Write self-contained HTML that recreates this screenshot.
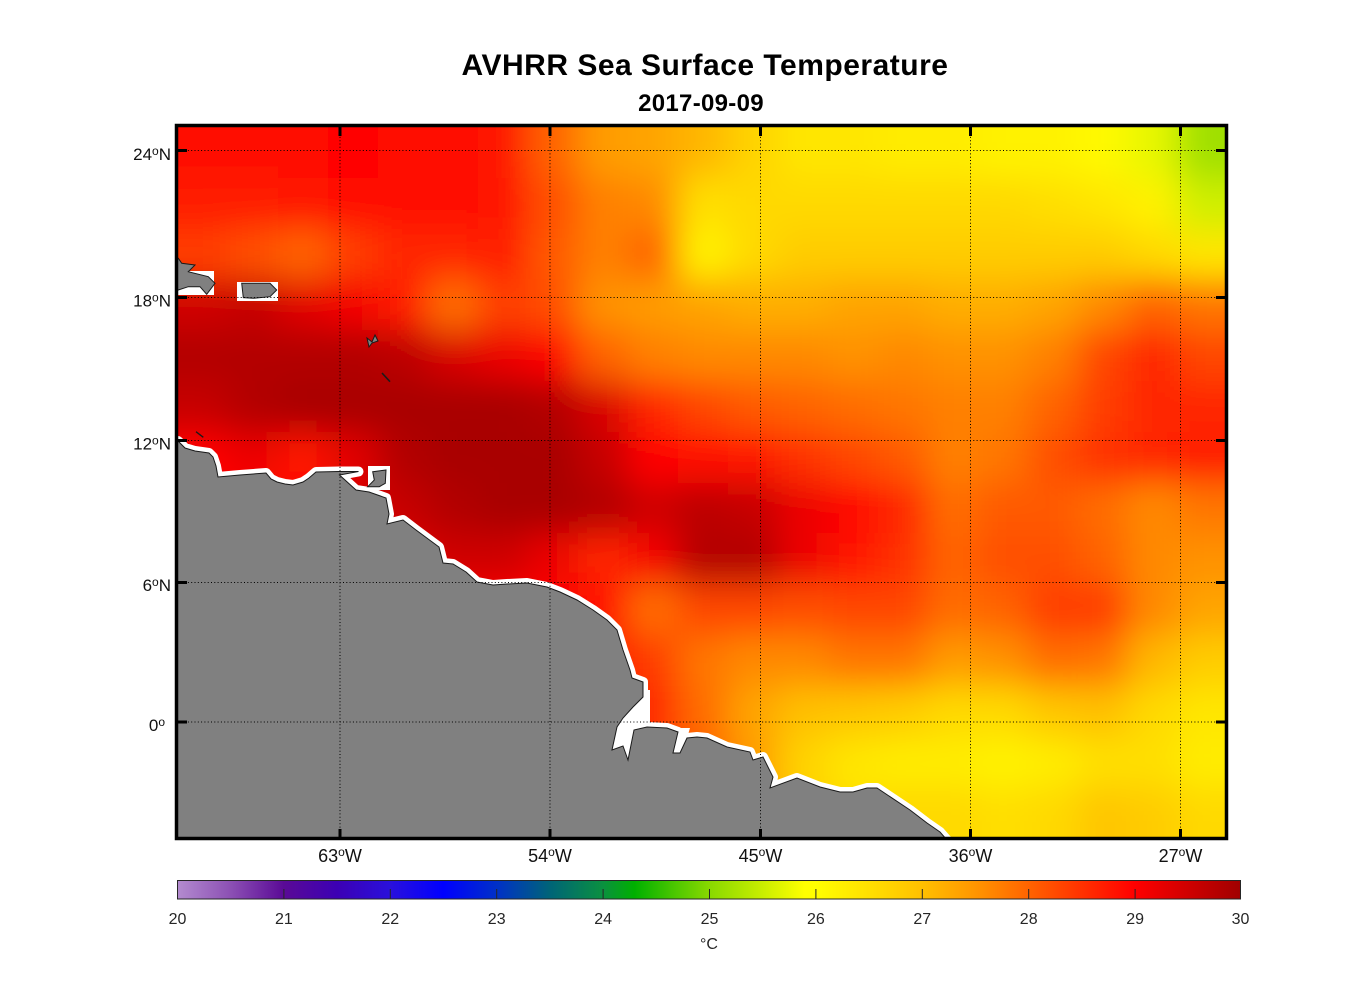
<!DOCTYPE html>
<html>
<head>
<meta charset="utf-8">
<style>
html,body{margin:0;padding:0;background:#fff;}
svg{display:block;}
text{font-family:"Liberation Sans",Arial,sans-serif;}
</style>
</head>
<body>
<svg width="1356" height="1000" viewBox="0 0 1356 1000" xmlns="http://www.w3.org/2000/svg">
<defs>
  <clipPath id="pc"><rect x="178" y="127" width="1048" height="711"/></clipPath>
  <filter id="bl" x="-0.1" y="-0.1" width="1.2" height="1.2"><feGaussianBlur stdDeviation="17"/></filter>
  <linearGradient id="cb" x1="0" y1="0" x2="1" y2="0">
    <stop offset="0" stop-color="#b38bcf"/>
    <stop offset="0.05" stop-color="#8c50b4"/>
    <stop offset="0.10" stop-color="#5a0a96"/>
    <stop offset="0.15" stop-color="#3c00b4"/>
    <stop offset="0.20" stop-color="#2a10dc"/>
    <stop offset="0.25" stop-color="#0000ff"/>
    <stop offset="0.30" stop-color="#0030c8"/>
    <stop offset="0.35" stop-color="#006478"/>
    <stop offset="0.40" stop-color="#0a9040"/>
    <stop offset="0.43" stop-color="#00b000"/>
    <stop offset="0.47" stop-color="#50c800"/>
    <stop offset="0.50" stop-color="#88d800"/>
    <stop offset="0.55" stop-color="#c8ee00"/>
    <stop offset="0.59" stop-color="#ffff00"/>
    <stop offset="0.60" stop-color="#ffff00"/>
    <stop offset="0.65" stop-color="#ffe000"/>
    <stop offset="0.70" stop-color="#ffc000"/>
    <stop offset="0.75" stop-color="#ff9600"/>
    <stop offset="0.80" stop-color="#ff6400"/>
    <stop offset="0.85" stop-color="#ff3200"/>
    <stop offset="0.90" stop-color="#ff0000"/>
    <stop offset="0.95" stop-color="#d00000"/>
    <stop offset="1" stop-color="#a00000"/>
  </linearGradient>
</defs>

<!-- Title -->
<text x="705" y="75" text-anchor="middle" font-size="30" font-weight="bold" letter-spacing="0.5" fill="#000">AVHRR Sea Surface Temperature</text>
<text x="701" y="111" text-anchor="middle" font-size="24" font-weight="bold" letter-spacing="0.3" fill="#000">2017-09-09</text>

<g clip-path="url(#pc)">
  <g filter="url(#bl)">
    <g transform="translate(0,77)">
      <rect x="128" width="201" height="102" fill="#ff0a00"/>
      <rect x="328" width="51" height="102" fill="#ff0000"/>
      <rect x="378" width="101" height="102" fill="#ff0a00"/>
      <rect x="478" width="51" height="102" fill="#ff1400"/>
      <rect x="528" width="51" height="102" fill="#ff6400"/>
      <rect x="578" width="51" height="102" fill="#ff9b00"/>
      <rect x="628" width="51" height="102" fill="#ffa400"/>
      <rect x="678" width="51" height="102" fill="#ffb700"/>
      <rect x="728" width="51" height="102" fill="#ffd300"/>
      <rect x="778" width="101" height="102" fill="#ffe600"/>
      <rect x="878" width="101" height="102" fill="#ffec00"/>
      <rect x="978" width="101" height="102" fill="#fff200"/>
      <rect x="1078" width="51" height="102" fill="#fff900"/>
      <rect x="1128" width="51" height="102" fill="#e7f700"/>
      <rect x="1178" width="101" height="102" fill="#a0e000"/>
    </g>
    <g transform="translate(0,178)">
      <rect x="128" width="151" height="52" fill="#ff1e00"/>
      <rect x="278" width="51" height="52" fill="#ff1400"/>
      <rect x="328" width="151" height="52" fill="#ff0a00"/>
      <rect x="478" width="51" height="52" fill="#ff1400"/>
      <rect x="528" width="51" height="52" fill="#ff5000"/>
      <rect x="578" width="51" height="52" fill="#ff8000"/>
      <rect x="628" width="51" height="52" fill="#ff8900"/>
      <rect x="678" width="51" height="52" fill="#ffdf00"/>
      <rect x="728" width="301" height="52" fill="#ffd900"/>
      <rect x="1028" width="51" height="52" fill="#ffdf00"/>
      <rect x="1078" width="51" height="52" fill="#ffe600"/>
      <rect x="1128" width="51" height="52" fill="#fff200"/>
      <rect x="1178" width="101" height="52" fill="#cfef00"/>
    </g>
    <g transform="translate(0,229)">
      <rect x="128" width="101" height="52" fill="#ff3c00"/>
      <rect x="228" width="51" height="52" fill="#ff5000"/>
      <rect x="278" width="51" height="52" fill="#ff6400"/>
      <rect x="328" width="51" height="52" fill="#ff3c00"/>
      <rect x="378" width="101" height="52" fill="#ff2800"/>
      <rect x="478" width="51" height="52" fill="#ff1e00"/>
      <rect x="528" width="51" height="52" fill="#ff5a00"/>
      <rect x="578" width="51" height="52" fill="#ff8000"/>
      <rect x="628" width="51" height="52" fill="#ff6400"/>
      <rect x="678" width="51" height="52" fill="#fff200"/>
      <rect x="728" width="51" height="52" fill="#ffd900"/>
      <rect x="778" width="351" height="52" fill="#ffcc00"/>
      <rect x="1128" width="51" height="52" fill="#ffd900"/>
      <rect x="1178" width="101" height="52" fill="#ffe600"/>
    </g>
    <g transform="translate(0,279)">
      <rect x="128" width="101" height="52" fill="#d00000"/>
      <rect x="228" width="51" height="52" fill="#c60000"/>
      <rect x="278" width="51" height="52" fill="#e20000"/>
      <rect x="328" width="51" height="52" fill="#f50000"/>
      <rect x="378" width="51" height="52" fill="#ff1e00"/>
      <rect x="428" width="51" height="52" fill="#ff6d00"/>
      <rect x="478" width="51" height="52" fill="#ff3c00"/>
      <rect x="528" width="51" height="52" fill="#ff5000"/>
      <rect x="578" width="51" height="52" fill="#ff9200"/>
      <rect x="628" width="51" height="52" fill="#ff9b00"/>
      <rect x="678" width="51" height="52" fill="#ffa400"/>
      <rect x="728" width="101" height="52" fill="#ffae00"/>
      <rect x="828" width="101" height="52" fill="#ffa400"/>
      <rect x="928" width="101" height="52" fill="#ffae00"/>
      <rect x="1028" width="51" height="52" fill="#ffa400"/>
      <rect x="1078" width="51" height="52" fill="#ff8900"/>
      <rect x="1128" width="51" height="52" fill="#ff6400"/>
      <rect x="1178" width="101" height="52" fill="#ff7600"/>
    </g>
    <g transform="translate(0,330)">
      <rect x="128" width="251" height="52" fill="#b30000"/>
      <rect x="378" width="51" height="52" fill="#bc0000"/>
      <rect x="428" width="51" height="52" fill="#d90000"/>
      <rect x="478" width="51" height="52" fill="#ec0000"/>
      <rect x="528" width="51" height="52" fill="#ff0000"/>
      <rect x="578" width="51" height="52" fill="#ff6400"/>
      <rect x="628" width="51" height="52" fill="#ff8000"/>
      <rect x="678" width="151" height="52" fill="#ff8900"/>
      <rect x="828" width="51" height="52" fill="#ff9200"/>
      <rect x="878" width="51" height="52" fill="#ff8900"/>
      <rect x="928" width="101" height="52" fill="#ff9200"/>
      <rect x="1028" width="51" height="52" fill="#ff8000"/>
      <rect x="1078" width="51" height="52" fill="#ff4600"/>
      <rect x="1128" width="51" height="52" fill="#ff2800"/>
      <rect x="1178" width="101" height="52" fill="#ff4600"/>
    </g>
    <g transform="translate(0,381)">
      <rect x="128" width="101" height="52" fill="#c60000"/>
      <rect x="228" width="51" height="52" fill="#b30000"/>
      <rect x="278" width="251" height="52" fill="#a90000"/>
      <rect x="528" width="51" height="52" fill="#b30000"/>
      <rect x="578" width="51" height="52" fill="#d90000"/>
      <rect x="628" width="51" height="52" fill="#ff2800"/>
      <rect x="678" width="51" height="52" fill="#ff4600"/>
      <rect x="728" width="51" height="52" fill="#ff5a00"/>
      <rect x="778" width="51" height="52" fill="#ff6400"/>
      <rect x="828" width="51" height="52" fill="#ff6d00"/>
      <rect x="878" width="51" height="52" fill="#ff7600"/>
      <rect x="928" width="101" height="52" fill="#ff8000"/>
      <rect x="1028" width="51" height="52" fill="#ff6400"/>
      <rect x="1078" width="51" height="52" fill="#ff3c00"/>
      <rect x="1128" width="151" height="52" fill="#ff2800"/>
    </g>
    <g transform="translate(0,432)">
      <rect x="128" width="101" height="52" fill="#ff0000"/>
      <rect x="228" width="51" height="52" fill="#ec0000"/>
      <rect x="278" width="51" height="52" fill="#ff1400"/>
      <rect x="328" width="51" height="52" fill="#e20000"/>
      <rect x="378" width="51" height="52" fill="#b30000"/>
      <rect x="428" width="151" height="52" fill="#a90000"/>
      <rect x="578" width="51" height="52" fill="#c60000"/>
      <rect x="628" width="51" height="52" fill="#ff0000"/>
      <rect x="678" width="51" height="52" fill="#ff0a00"/>
      <rect x="728" width="51" height="52" fill="#ff1400"/>
      <rect x="778" width="51" height="52" fill="#ff3200"/>
      <rect x="828" width="51" height="52" fill="#ff4600"/>
      <rect x="878" width="51" height="52" fill="#ff5a00"/>
      <rect x="928" width="51" height="52" fill="#ff8000"/>
      <rect x="978" width="51" height="52" fill="#ff7600"/>
      <rect x="1028" width="51" height="52" fill="#ff5000"/>
      <rect x="1078" width="51" height="52" fill="#ff3200"/>
      <rect x="1128" width="51" height="52" fill="#ff2800"/>
      <rect x="1178" width="101" height="52" fill="#ff1e00"/>
    </g>
    <g transform="translate(0,483)">
      <rect x="128" width="201" height="52" fill="#ff0000"/>
      <rect x="328" width="51" height="52" fill="#d90000"/>
      <rect x="378" width="51" height="52" fill="#c60000"/>
      <rect x="428" width="51" height="52" fill="#b30000"/>
      <rect x="478" width="101" height="52" fill="#a90000"/>
      <rect x="578" width="51" height="52" fill="#b30000"/>
      <rect x="628" width="51" height="52" fill="#cf0000"/>
      <rect x="678" width="51" height="52" fill="#bc0000"/>
      <rect x="728" width="51" height="52" fill="#c60000"/>
      <rect x="778" width="51" height="52" fill="#ec0000"/>
      <rect x="828" width="51" height="52" fill="#ff0000"/>
      <rect x="878" width="51" height="52" fill="#ff2800"/>
      <rect x="928" width="51" height="52" fill="#ff6d00"/>
      <rect x="978" width="101" height="52" fill="#ff5a00"/>
      <rect x="1078" width="51" height="52" fill="#ff6d00"/>
      <rect x="1128" width="51" height="52" fill="#ff8900"/>
      <rect x="1178" width="101" height="52" fill="#ff7600"/>
    </g>
    <g transform="translate(0,533)">
      <rect x="128" width="301" height="52" fill="#e20000"/>
      <rect x="428" width="101" height="52" fill="#cf0000"/>
      <rect x="528" width="51" height="52" fill="#ec0000"/>
      <rect x="578" width="51" height="52" fill="#ff2800"/>
      <rect x="628" width="51" height="52" fill="#f50000"/>
      <rect x="678" width="101" height="52" fill="#b30000"/>
      <rect x="778" width="51" height="52" fill="#ec0000"/>
      <rect x="828" width="51" height="52" fill="#ff1400"/>
      <rect x="878" width="51" height="52" fill="#ff3200"/>
      <rect x="928" width="51" height="52" fill="#ff6400"/>
      <rect x="978" width="101" height="52" fill="#ff5000"/>
      <rect x="1078" width="51" height="52" fill="#ff6400"/>
      <rect x="1128" width="51" height="52" fill="#ff8900"/>
      <rect x="1178" width="101" height="52" fill="#ff9200"/>
    </g>
    <g transform="translate(0,584)">
      <rect x="128" width="451" height="52" fill="#ff0000"/>
      <rect x="578" width="51" height="52" fill="#ff0a00"/>
      <rect x="628" width="51" height="52" fill="#ff6d00"/>
      <rect x="678" width="101" height="52" fill="#ff4600"/>
      <rect x="778" width="51" height="52" fill="#ff5000"/>
      <rect x="828" width="101" height="52" fill="#ff4600"/>
      <rect x="928" width="51" height="52" fill="#ff6d00"/>
      <rect x="978" width="51" height="52" fill="#ff6400"/>
      <rect x="1028" width="101" height="52" fill="#ff3c00"/>
      <rect x="1128" width="51" height="52" fill="#ff8900"/>
      <rect x="1178" width="101" height="52" fill="#ffa400"/>
    </g>
    <g transform="translate(0,635)">
      <rect x="128" width="501" height="52" fill="#ff1400"/>
      <rect x="628" width="51" height="52" fill="#ff3c00"/>
      <rect x="678" width="51" height="52" fill="#ff7600"/>
      <rect x="728" width="101" height="52" fill="#ff8900"/>
      <rect x="828" width="101" height="52" fill="#ff7600"/>
      <rect x="928" width="51" height="52" fill="#ff9b00"/>
      <rect x="978" width="51" height="52" fill="#ff9200"/>
      <rect x="1028" width="51" height="52" fill="#ff6d00"/>
      <rect x="1078" width="51" height="52" fill="#ff7600"/>
      <rect x="1128" width="51" height="52" fill="#ffb700"/>
      <rect x="1178" width="101" height="52" fill="#ffcc00"/>
    </g>
    <g transform="translate(0,686)">
      <rect x="128" width="551" height="52" fill="#ff2800"/>
      <rect x="678" width="51" height="52" fill="#ff6d00"/>
      <rect x="728" width="51" height="52" fill="#ffa400"/>
      <rect x="778" width="51" height="52" fill="#ffc000"/>
      <rect x="828" width="51" height="52" fill="#ffc600"/>
      <rect x="878" width="51" height="52" fill="#ffcc00"/>
      <rect x="928" width="101" height="52" fill="#ffd900"/>
      <rect x="1028" width="51" height="52" fill="#ffc600"/>
      <rect x="1078" width="51" height="52" fill="#ffc000"/>
      <rect x="1128" width="51" height="52" fill="#ffd900"/>
      <rect x="1178" width="101" height="52" fill="#ffe600"/>
    </g>
    <g transform="translate(0,737)">
      <rect x="128" width="551" height="52" fill="#ff3c00"/>
      <rect x="678" width="51" height="52" fill="#ff6400"/>
      <rect x="728" width="51" height="52" fill="#ff9b00"/>
      <rect x="778" width="51" height="52" fill="#ffd300"/>
      <rect x="828" width="51" height="52" fill="#ffe600"/>
      <rect x="878" width="101" height="52" fill="#ffec00"/>
      <rect x="978" width="51" height="52" fill="#fff200"/>
      <rect x="1028" width="51" height="52" fill="#ffec00"/>
      <rect x="1078" width="101" height="52" fill="#ffdf00"/>
      <rect x="1178" width="101" height="52" fill="#ffec00"/>
    </g>
    <g transform="translate(0,787)">
      <rect x="128" width="551" height="101" fill="#ff6400"/>
      <rect x="678" width="51" height="101" fill="#ff7600"/>
      <rect x="728" width="51" height="101" fill="#ff9b00"/>
      <rect x="778" width="51" height="101" fill="#ffcc00"/>
      <rect x="828" width="51" height="101" fill="#ffdf00"/>
      <rect x="878" width="101" height="101" fill="#ffd900"/>
      <rect x="978" width="51" height="101" fill="#ffdf00"/>
      <rect x="1028" width="51" height="101" fill="#ffd900"/>
      <rect x="1078" width="51" height="101" fill="#ffc600"/>
      <rect x="1128" width="51" height="101" fill="#ffcc00"/>
      <rect x="1178" width="101" height="101" fill="#ffd900"/>
    </g>
  </g>

  <!-- white no-data areas near coast -->
  <rect x="170" y="271" width="44" height="24" fill="#fff"/>
  <rect x="237" y="282" width="41" height="19" fill="#fff"/>
  <rect x="368" y="466" width="22" height="24" fill="#fff"/>
  <polygon points="645,690 650,690 650,727 633,730 628,760 623,747 612,750 617,727" fill="#fff"/>
  <polygon points="676,728 690,728 687,738 680,755 671,755" fill="#fff"/>

  <path d="M178,441 L185,448 L195,451 L209,453 L213,457 L216,466 L218,477 L240,475 L266,473 L271,479 L277,482 L285,484 L293,485 L303,482 L309,478 L316,472 L339,471.5 L358.5,471.5 L339.5,475 L356,490 L369,492 L386,498 L389,514 L387,524 L403,520 L416,530 L439,547 L443,563 L453,564 L466,572 L477,582 L493,585 L507,584 L527,583 L547,587 L560,592 L577,600 L593,610 L607,620 L617,630 L623,650 L630,670 L632,678 L643,682 L643,697 L633,707 L623,718 L617,727 L612,750 L623,746 L628,760 L634,730 L647,727 L667,728 L678,732 L673,753 L680,753 L687,738 L697,737 L707,738 L727,747 L750,752 L753,760 L763,757 L773,777 L770,788 L797,778 L820,787 L840,792 L853,792 L867,788 L877,788 L910,810 L927,823 L940,832 L947,840 L170,840 L170,441 Z" fill="#fff" stroke="#fff" stroke-width="10" stroke-linejoin="round"/>

  <!-- land -->
  <path d="M178,441 L185,448 L195,451 L209,453 L213,457 L216,466 L218,477 L240,475 L266,473 L271,479 L277,482 L285,484 L293,485 L303,482 L309,478 L316,472 L339,471.5 L358.5,471.5 L339.5,475 L356,490 L369,492 L386,498 L389,514 L387,524 L403,520 L416,530 L439,547 L443,563 L453,564 L466,572 L477,582 L493,585 L507,584 L527,583 L547,587 L560,592 L577,600 L593,610 L607,620 L617,630 L623,650 L630,670 L632,678 L643,682 L643,697 L633,707 L623,718 L617,727 L612,750 L623,746 L628,760 L634,730 L647,727 L667,728 L678,732 L673,753 L680,753 L687,738 L697,737 L707,738 L727,747 L750,752 L753,760 L763,757 L773,777 L770,788 L797,778 L820,787 L840,792 L853,792 L867,788 L877,788 L910,810 L927,823 L940,832 L947,840 L170,840 L170,441 Z" fill="#808080" stroke="#1a1a1a" stroke-width="1"/>
  <path d="M170,258 L178.3,258.3 L181.7,263.3 L195,265 L188.3,271.7 L208.3,276.7 L215,283.3 L206.7,294.3 L200,286.7 L188.3,286.7 L178.3,290 L170,290 Z" fill="#808080" stroke="#1a1a1a" stroke-width="1"/>
  <path d="M241.7,283.3 L270,283.3 L276.7,290 L270,296.7 L253.3,298.3 L243.3,297.7 Z" fill="#808080" stroke="#1a1a1a" stroke-width="1"/>
  <path d="M372.7,471.7 L386,470 L385.3,483.3 L379.3,486.7 L367.7,486.7 L374.3,480 Z" fill="#808080" stroke="#1a1a1a" stroke-width="1"/>
  <path d="M367,338 L372,342 L375,335 L378,341 L372,343 L369,347 Z" fill="#808080" stroke="#1a1a1a" stroke-width="1"/>
  <path d="M382,373 L390,381.7" stroke="#1a1a1a" stroke-width="1.6"/>
  <path d="M196,431.7 L203.3,437.3" stroke="#1a1a1a" stroke-width="1.3"/>
</g>

<!-- gridlines -->
<g stroke="#000" stroke-width="1" stroke-dasharray="1 2.3" fill="none">
  <line x1="340" y1="127" x2="340" y2="838"/>
  <line x1="550" y1="127" x2="550" y2="838"/>
  <line x1="760.5" y1="127" x2="760.5" y2="838"/>
  <line x1="970.5" y1="127" x2="970.5" y2="838"/>
  <line x1="1180.5" y1="127" x2="1180.5" y2="838"/>
  <line x1="178" y1="150.5" x2="1225" y2="150.5"/>
  <line x1="178" y1="297.5" x2="1225" y2="297.5"/>
  <line x1="178" y1="440.5" x2="1225" y2="440.5"/>
  <line x1="178" y1="582.5" x2="1225" y2="582.5"/>
  <line x1="178" y1="722" x2="1225" y2="722"/>
</g>

<!-- ticks -->
<g fill="#000">
  <rect x="338.5" y="127" width="3" height="9"/>
  <rect x="548.5" y="127" width="3" height="9"/>
  <rect x="759" y="127" width="3" height="9"/>
  <rect x="969" y="127" width="3" height="9"/>
  <rect x="1179" y="127" width="3" height="9"/>
  <rect x="338.5" y="829" width="3" height="9"/>
  <rect x="548.5" y="829" width="3" height="9"/>
  <rect x="759" y="829" width="3" height="9"/>
  <rect x="969" y="829" width="3" height="9"/>
  <rect x="1179" y="829" width="3" height="9"/>
  <rect x="178" y="149" width="9" height="3"/>
  <rect x="178" y="296" width="9" height="3"/>
  <rect x="178" y="439" width="9" height="3"/>
  <rect x="178" y="581" width="9" height="3"/>
  <rect x="178" y="720.5" width="9" height="3"/>
  <rect x="1216" y="149" width="9" height="3"/>
  <rect x="1216" y="296" width="9" height="3"/>
  <rect x="1216" y="439" width="9" height="3"/>
  <rect x="1216" y="581" width="9" height="3"/>
  <rect x="1216" y="720.5" width="9" height="3"/>
</g>

<!-- frame -->
<rect x="176.5" y="125.5" width="1050" height="713" fill="none" stroke="#000" stroke-width="3.5"/>

<!-- latitude labels -->
<g font-size="17" fill="#111" text-anchor="end">
  <text x="171" y="160">24<tspan font-size="12" dy="-5">o</tspan><tspan dy="5">N</tspan></text>
  <text x="171" y="306.5">18<tspan font-size="12" dy="-5">o</tspan><tspan dy="5">N</tspan></text>
  <text x="171" y="449.5">12<tspan font-size="12" dy="-5">o</tspan><tspan dy="5">N</tspan></text>
  <text x="171" y="591">6<tspan font-size="12" dy="-5">o</tspan><tspan dy="5">N</tspan></text>
  <text x="165" y="731">0<tspan font-size="12" dy="-5">o</tspan></text>
</g>

<!-- longitude labels -->
<g font-size="18" fill="#111" text-anchor="middle">
  <text x="340" y="862">63<tspan font-size="12" dy="-6">o</tspan><tspan dy="6">W</tspan></text>
  <text x="550" y="862">54<tspan font-size="12" dy="-6">o</tspan><tspan dy="6">W</tspan></text>
  <text x="760.5" y="862">45<tspan font-size="12" dy="-6">o</tspan><tspan dy="6">W</tspan></text>
  <text x="970.5" y="862">36<tspan font-size="12" dy="-6">o</tspan><tspan dy="6">W</tspan></text>
  <text x="1180.5" y="862">27<tspan font-size="12" dy="-6">o</tspan><tspan dy="6">W</tspan></text>
</g>

<!-- colorbar -->
<rect x="177.5" y="880.5" width="1063" height="18.5" fill="url(#cb)" stroke="#262626" stroke-width="1"/>
<g stroke="#262626" stroke-width="1">
  <line x1="283.9" y1="889" x2="283.9" y2="899"/>
  <line x1="390.3" y1="889" x2="390.3" y2="899"/>
  <line x1="496.7" y1="889" x2="496.7" y2="899"/>
  <line x1="603.1" y1="889" x2="603.1" y2="899"/>
  <line x1="709.5" y1="889" x2="709.5" y2="899"/>
  <line x1="815.9" y1="889" x2="815.9" y2="899"/>
  <line x1="922.3" y1="889" x2="922.3" y2="899"/>
  <line x1="1028.7" y1="889" x2="1028.7" y2="899"/>
  <line x1="1135.1" y1="889" x2="1135.1" y2="899"/>
</g>
<g font-size="16" fill="#262626" text-anchor="middle">
  <text x="177.5" y="924">20</text>
  <text x="283.9" y="924">21</text>
  <text x="390.3" y="924">22</text>
  <text x="496.7" y="924">23</text>
  <text x="603.1" y="924">24</text>
  <text x="709.5" y="924">25</text>
  <text x="815.9" y="924">26</text>
  <text x="922.3" y="924">27</text>
  <text x="1028.7" y="924">28</text>
  <text x="1135.1" y="924">29</text>
  <text x="1240.5" y="924">30</text>
  <text x="709" y="949">°C</text>
</g>
</svg>
</body>
</html>
